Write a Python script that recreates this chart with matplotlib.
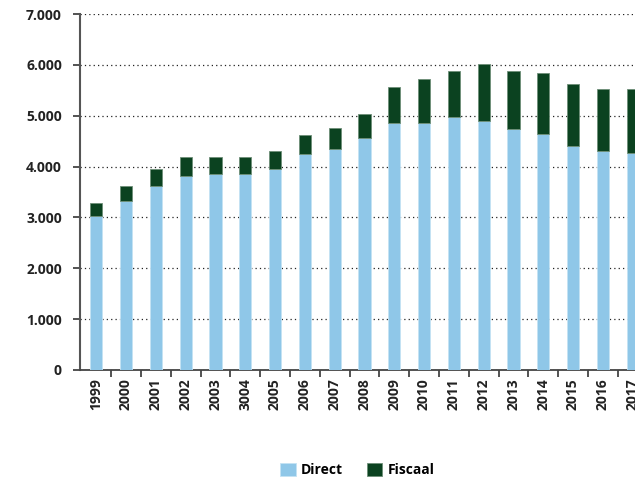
import numpy as np
import matplotlib.pyplot as plt
from matplotlib.ticker import FuncFormatter

years = ['1999', '2000', '2001', '2002', '2003', '3004', '2005', '2006', '2007', '2008',
         '2009', '2010', '2011', '2012', '2013', '2014', '2015', '2016', '2017']
direct = [3030, 3330, 3615, 3820, 3860, 3860, 3950, 4245, 4340, 4570,
          4865, 4865, 4965, 4900, 4735, 4635, 4405, 4310, 4275]
fiscaal = [260, 290, 330, 360, 320, 320, 355, 385, 425, 460,
           690, 850, 915, 1120, 1145, 1210, 1215, 1210, 1245]

plt.rcParams['font.family'] = ['Open Sans', 'DejaVu Sans']

fig = plt.figure(figsize=(6.35, 4.83), dpi=100)
ax = fig.add_axes([0.126, 0.234, 0.874, 0.737])

x = np.arange(len(years))
w = 0.41
ax.bar(x, direct, w, color='#8fc7e8', edgecolor='#c4e2f3', linewidth=0.6,
       label='Direct', zorder=3)
ax.bar(x, fiscaal, w, bottom=direct, color='#0b4220', edgecolor='#6e8f78',
       linewidth=0.6, label='Fiscaal', zorder=3)

ax.set_yticks(range(0, 7001, 1000))
ax.yaxis.set_major_formatter(FuncFormatter(lambda v, p: f'{int(v):,}'.replace(',', '.')))
ax.grid(axis='y', linestyle=(0, (1, 2.5)), color='#222222', linewidth=0.9, zorder=0)

ax.set_xticks(x)
ax.set_xticklabels(years, rotation=90)
ax.set_xticks(np.arange(len(years)) + 0.5, minor=True)
ax.tick_params(axis='x', which='major', length=0, pad=6)
ax.tick_params(axis='x', which='minor', length=5, width=1.3, color='#444444')
ax.tick_params(axis='y', length=5, width=1.3, color='#444444', pad=8)
for lab in ax.get_xticklabels() + ax.get_yticklabels():
    lab.set_fontsize(10)
    lab.set_fontweight('bold')
    lab.set_color('#222222')

ax.set_ylim(0, 7000)
ax.set_xlim(-0.544, 18.08)

for s in ['top', 'right']:
    ax.spines[s].set_visible(False)
ax.spines['left'].set_color('#555555')
ax.spines['left'].set_linewidth(1.5)
ax.spines['bottom'].set_color('#444444')
ax.spines['bottom'].set_linewidth(1.3)

fig.legend(loc='center', bbox_to_anchor=(0.563, 0.027), ncol=2, frameon=False,
           handlelength=1.1, handleheight=1.1, columnspacing=1.7, handletextpad=0.4,
           prop={'weight': 'bold', 'size': 10})

fig.savefig('out.png', dpi=100)
